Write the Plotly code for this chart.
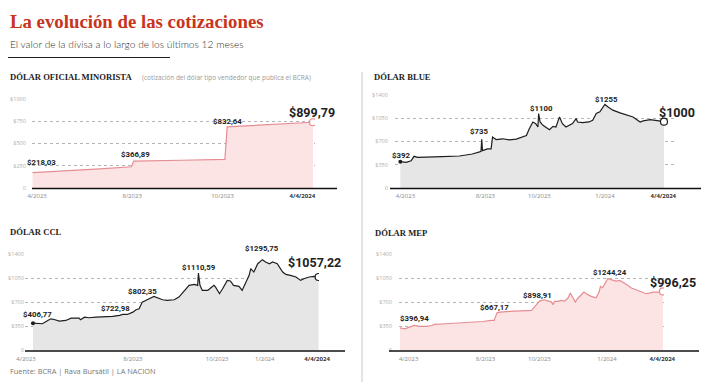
import plotly.graph_objects as go

# The page body has an 8px margin: the figure is sized to fill the rest of the window
PAGE_W, PAGE_H, BODY = 711, 389, 8
W, H = PAGE_W - BODY, PAGE_H - BODY


def px(x):
    return (x - BODY) / W


def py(y):
    return 1 - (y - BODY) / H


# ---------------- DATA (values read in the chart's own axis units) ----------------
oficial_dates = ["2023-04-04", "2023-05-15", "2023-07-01", "2023-08-11", "2023-08-14",
                 "2023-10-15", "2023-12-11", "2023-12-14", "2024-02-01", "2024-04-04"]
oficial_vals = [172, 190, 215, 239, 302, 312, 321, 687, 710, 739]

blue_dates = ["2023-04-04", "2023-04-12", "2023-04-19", "2023-04-23", "2023-04-28", "2023-05-09",
              "2023-06-01", "2023-06-25", "2023-07-04", "2023-07-13", "2023-07-23", "2023-07-25",
              "2023-07-26", "2023-07-27", "2023-08-03", "2023-08-08", "2023-08-10", "2023-08-15",
              "2023-08-24", "2023-09-02", "2023-09-12", "2023-09-21", "2023-09-26", "2023-09-30",
              "2023-10-05", "2023-10-09", "2023-10-12", "2023-10-13", "2023-10-15", "2023-10-19",
              "2023-10-23", "2023-10-28", "2023-11-02", "2023-11-06", "2023-11-11", "2023-11-15",
              "2023-11-20", "2023-11-25", "2023-11-29", "2023-12-04", "2023-12-06", "2023-12-13",
              "2023-12-22", "2023-12-27", "2024-01-01", "2024-01-06", "2024-01-09", "2024-01-13",
              "2024-01-17", "2024-01-24", "2024-02-03", "2024-02-12", "2024-02-21", "2024-03-02",
              "2024-03-06", "2024-03-16", "2024-03-25", "2024-04-04"]
blue_vals = [396, 386, 410, 477, 462, 462, 472, 482, 492, 512, 543, 553, 735, 563, 588, 588,
             766, 730, 741, 725, 735, 766, 791, 893, 994, 969, 918, 1121, 994, 944, 918, 878,
             928, 918, 1070, 969, 918, 944, 969, 1045, 994, 984, 994, 1020, 1121, 1146, 1197,
             1258, 1222, 1172, 1131, 1096, 1070, 994, 1010, 1030, 1020, 999]

ccl_dates = ["2023-04-04", "2023-04-10", "2023-04-16", "2023-04-23", "2023-04-27", "2023-05-01",
             "2023-05-08", "2023-05-16", "2023-05-23", "2023-06-02", "2023-06-04", "2023-06-09",
             "2023-06-15", "2023-06-24", "2023-07-02", "2023-07-15", "2023-07-24", "2023-07-28",
             "2023-08-03", "2023-08-10", "2023-08-14", "2023-08-18", "2023-08-22", "2023-08-27",
             "2023-08-31", "2023-09-06", "2023-09-11", "2023-09-17", "2023-09-23", "2023-10-02",
             "2023-10-08", "2023-10-15", "2023-10-21", "2023-10-28", "2023-11-01", "2023-11-02",
             "2023-11-04", "2023-11-07", "2023-11-14", "2023-11-18", "2023-11-22", "2023-11-24",
             "2023-11-29", "2023-12-03", "2023-12-09", "2023-12-13", "2023-12-17", "2023-12-24",
             "2023-12-28", "2024-01-02", "2024-01-06", "2024-01-08", "2024-01-12", "2024-01-17",
             "2024-01-23", "2024-01-27", "2024-02-01", "2024-02-05", "2024-02-11", "2024-02-18",
             "2024-02-22", "2024-02-28", "2024-03-06", "2024-03-12", "2024-03-16", "2024-03-23",
             "2024-03-29", "2024-04-04"]
ccl_vals = [397, 388, 388, 436, 460, 450, 426, 436, 470, 470, 446, 484, 475, 484, 484, 494,
            509, 523, 523, 557, 591, 605, 702, 736, 751, 785, 765, 736, 727, 736, 775, 872,
            945, 959, 945, 1124, 945, 872, 872, 911, 945, 920, 824, 896, 1017, 1008, 945, 930,
            872, 993, 1090, 1187, 1138, 1259, 1318, 1284, 1259, 1284, 1259, 1138, 1104, 1090,
            1066, 1017, 1041, 1066, 1075, 1066]

mep_dates = ["2023-04-04", "2023-04-11", "2023-04-17", "2023-04-24", "2023-05-01", "2023-05-11",
             "2023-05-18", "2023-05-22", "2023-06-07", "2023-06-26", "2023-07-14", "2023-07-28",
             "2023-08-09", "2023-08-13", "2023-08-17", "2023-08-21", "2023-09-04", "2023-09-17",
             "2023-10-04", "2023-10-08", "2023-10-15", "2023-10-22", "2023-10-27", "2023-11-01",
             "2023-11-03", "2023-11-05", "2023-11-10", "2023-11-14", "2023-11-19", "2023-11-24",
             "2023-11-27", "2023-12-01", "2023-12-04", "2023-12-07", "2023-12-12", "2023-12-16",
             "2023-12-21", "2023-12-26", "2024-01-02", "2024-01-06", "2024-01-08", "2024-01-11",
             "2024-01-18", "2024-01-25", "2024-01-30", "2024-02-04", "2024-02-11", "2024-02-15",
             "2024-02-20", "2024-02-27", "2024-03-05", "2024-03-12", "2024-03-16", "2024-03-21",
             "2024-03-28", "2024-04-04"]
mep_vals = [329, 315, 339, 363, 349, 349, 363, 378, 388, 397, 407, 421, 436, 436, 547, 557,
            567, 572, 581, 630, 717, 736, 717, 702, 664, 712, 712, 726, 717, 765, 833, 765,
            702, 751, 799, 848, 814, 785, 765, 848, 930, 911, 1042, 1027, 1008, 1017, 979, 945,
            906, 882, 857, 824, 833, 848, 848, 857]

oficial_ticks = ["2023-04-10", "2023-08-12", "2023-12-08", "2024-03-21"]
blue_ticks = ["2023-04-11", "2023-07-31", "2023-10-14", "2024-01-13", "2024-04-03"]
ccl_ticks = ["2023-03-26", "2023-08-10", "2023-11-26", "2024-01-26", "2024-04-02"]
mep_ticks = ["2023-04-16", "2023-08-01", "2023-10-15", "2024-01-17", "2024-04-03"]
oficial_ticktext = ["4/2023", "8/2023", "10/2023", "4/4/2024"]
dolar_ticktext = ["4/2023", "8/2023", "10/2023", "1/2024", "4/4/2024"]

oficial_yticks = [0, 250, 500, 750, 1000]
oficial_yticktext = ["0", "$250", "$500", "$750", "$1000"]
dolar_yticks = [0, 350, 700, 1050, 1400]
dolar_yticktext = ["0", "$350", "$700", "$1050", "$1400"]

# value labels: (text, x px centre, y px centre, big)
oficial_labels = [("$218,03", 41, 162, False), ("$366,89", 135, 154, False),
                  ("$832,64", 227, 121, False), ("$899,79", 312, 113, True)]
blue_labels = [("$392", 401, 155, False), ("$735", 479, 132, False), ("$1100", 541, 108, False),
               ("$1255", 606, 99, False), ("$1000", 677, 112, True)]
ccl_labels = [("$406,77", 37, 314, False), ("$722,98", 115, 308, False),
              ("$802,35", 142, 291, False), ("$1110,59", 199, 267, False),
              ("$1295,75", 262, 249, False), ("$1057,22", 314, 262, True)]
mep_labels = [("$396,94", 414, 318, False), ("$667,17", 494, 307, False),
              ("$898,91", 537, 295, False), ("$1244,24", 610, 272, False),
              ("$996,25", 673, 282, True)]

# ---------------- STYLE ----------------
RED = "#c7351d"
PINK_LINE = "#e58d93"
PINK_FILL = "#fde4e4"
DARK_LINE = "#1e1e1e"
GRAY_FILL = "#e6e6e6"
TICK_COLOR = "#b0b0b0"
LABEL_FONT = "Roboto"

panels = [
    dict(dates=oficial_dates, vals=oficial_vals, line=PINK_LINE, fill=PINK_FILL,
         dx=(32, 315), ytop=99, ybase=188, xr=["2023-04-03 08:00", "2024-04-06 14:00"],
         yr=[0, 1000], ticks=oficial_ticks, ticktext=oficial_ticktext,
         yt=oficial_yticks, ytt=oficial_yticktext, base=(32, 337), so=5,
         labels=oficial_labels, dot=False),
    dict(dates=blue_dates, vals=blue_vals, line=DARK_LINE, fill=GRAY_FILL,
         dx=(395, 677), ytop=95, ybase=188, xr=["2023-03-27 14:00", "2024-04-22 02:00"],
         yr=[0, 1400], ticks=blue_ticks, ticktext=dolar_ticktext,
         yt=dolar_yticks, ytt=dolar_yticktext, base=(390, 701), so=6,
         labels=blue_labels, dot=True),
    dict(dates=ccl_dates, vals=ccl_vals, line=DARK_LINE, fill=GRAY_FILL,
         dx=(25, 319), ytop=254, ybase=350.5, xr=["2023-03-24 19:00", "2024-04-04 12:00"],
         yr=[0, 1400], ticks=ccl_ticks, ticktext=dolar_ticktext,
         yt=dolar_yticks, ytt=dolar_yticktext, base=(25, 345), so=0,
         labels=ccl_labels, dot=True),
    dict(dates=mep_dates, vals=mep_vals, line=PINK_LINE, fill=PINK_FILL,
         dx=(399, 664), ytop=254, ybase=350.5, xr=["2023-04-02 14:00", "2024-04-05 10:00"],
         yr=[0, 1400], ticks=mep_ticks, ticktext=dolar_ticktext,
         yt=dolar_yticks, ytt=dolar_yticktext, base=(389, 699), so=6,
         labels=mep_labels, dot=False),
]

fig = go.Figure()
layout = dict(
    width=W, height=H, margin=dict(l=0, r=0, t=0, b=0, autoexpand=False),
    paper_bgcolor="white", plot_bgcolor="rgba(0,0,0,0)", showlegend=False,
)
annotations = []
shapes = []

for i, p in enumerate(panels, start=1):
    xa = "x" if i == 1 else f"x{i}"
    ya = "y" if i == 1 else f"y{i}"
    fig.add_trace(go.Scatter(
        x=p["dates"], y=p["vals"], mode="lines", xaxis=xa, yaxis=ya,
        line=dict(color=p["line"], width=1.2), fill="tozeroy", fillcolor=p["fill"],
        hoverinfo="skip"))
    fig.add_trace(go.Scatter(
        x=[p["dates"][-1]], y=[p["vals"][-1]], mode="markers", xaxis=xa, yaxis=ya,
        marker=dict(size=7, color="white", line=dict(color=p["line"], width=1.2)),
        hoverinfo="skip"))
    if p["dot"]:
        fig.add_trace(go.Scatter(
            x=[p["dates"][0]], y=[p["vals"][0]], mode="markers", xaxis=xa, yaxis=ya,
            marker=dict(size=4, color=DARK_LINE), hoverinfo="skip"))

    ticktext = [t for t in p["ticktext"][:-1]] + [
        f"<b><span style='color:#333333'>{p['ticktext'][-1]}</span></b>"]
    xkey = "xaxis" if i == 1 else f"xaxis{i}"
    ykey = "yaxis" if i == 1 else f"yaxis{i}"
    layout[xkey] = dict(
        domain=[px(p["dx"][0]), px(p["dx"][1])], anchor=ya, type="date", range=p["xr"],
        tickvals=p["ticks"], ticktext=ticktext, showgrid=False, zeroline=False,
        showline=False, ticks="", ticklabelstandoff=3, automargin=False,
        tickfont=dict(family="Open Sans", size=6, color="#888888"), fixedrange=True)
    layout[ykey] = dict(
        domain=[py(p["ybase"]), py(p["ytop"])], anchor=xa, range=p["yr"],
        tickvals=p["yt"], ticktext=p["ytt"], showgrid=True, gridcolor="#b5b5b5",
        griddash="dot", gridwidth=1, zeroline=False, showline=False, ticks="",
        ticklabelstandoff=p["so"], automargin=False,
        tickfont=dict(family="Open Sans", size=5.6, color=TICK_COLOR), fixedrange=True)
    shapes.append(dict(type="line", xref="paper", yref="paper",
                       x0=px(p["base"][0]), x1=px(p["base"][1]),
                       y0=py(p["ybase"] + 0.5), y1=py(p["ybase"] + 0.5),
                       line=dict(color="#111111", width=1.5)))
    for text, lx, ly, big in p["labels"]:
        annotations.append(dict(
            text=f"<b>{text}</b>", xref="paper", yref="paper", x=px(lx), y=py(ly),
            xanchor="center", yanchor="middle", showarrow=False,
            font=dict(family=LABEL_FONT, size=12.5 if big else 7.8, color="#222222")))

annotations += [
    dict(text="<b>La evolución de las cotizaciones</b>", x=px(8), y=py(22), xanchor="left",
         yanchor="middle", font=dict(family="Liberation Serif", size=18.8, color=RED)),
    dict(text="El valor de la divisa a lo largo de los últimos 12 meses", x=px(8), y=py(44),
         xanchor="left", yanchor="middle",
         font=dict(family="Lato", size=10.2, color="#333333", weight=300)),
    dict(text="<b>DÓLAR OFICIAL MINORISTA</b>", x=px(8), y=py(77), xanchor="left",
         yanchor="middle", font=dict(family="Liberation Serif", size=8.6, color="#222222")),
    dict(text="(cotización del dólar tipo vendedor que publica el BCRA)", x=px(140), y=py(77),
         xanchor="left", yanchor="middle",
         font=dict(family="Open Sans", size=6.5, color="#9a9a9a")),
    dict(text="<b>DÓLAR BLUE</b>", x=px(372), y=py(77), xanchor="left", yanchor="middle",
         font=dict(family="Liberation Serif", size=8.6, color="#222222")),
    dict(text="<b>DÓLAR CCL</b>", x=px(8), y=py(232), xanchor="left", yanchor="middle",
         font=dict(family="Liberation Serif", size=8.6, color="#222222")),
    dict(text="<b>DÓLAR MEP</b>", x=px(373), y=py(233), xanchor="left", yanchor="middle",
         font=dict(family="Liberation Serif", size=8.6, color="#222222")),
    dict(text="Fuente: BCRA | Rava Bursátil | LA NACION", x=px(8), y=py(371), xanchor="left",
         yanchor="middle", font=dict(family="Open Sans", size=7.4, color="#777777")),
]
for a in annotations:
    a.setdefault("xref", "paper")
    a.setdefault("yref", "paper")
    a.setdefault("showarrow", False)

shapes += [
    dict(type="line", xref="paper", yref="paper", x0=px(8), x1=px(170), y0=py(57.5),
         y1=py(57.5), line=dict(color="#222222", width=1)),
    dict(type="line", xref="paper", yref="paper", x0=px(362), x1=px(362), y0=py(72),
         y1=py(382), line=dict(color="#c8c8c8", width=1)),
]

layout["annotations"] = annotations
layout["shapes"] = shapes
fig.update_layout(**layout)
fig.write_html("out.html", config={"displayModeBar": False})
